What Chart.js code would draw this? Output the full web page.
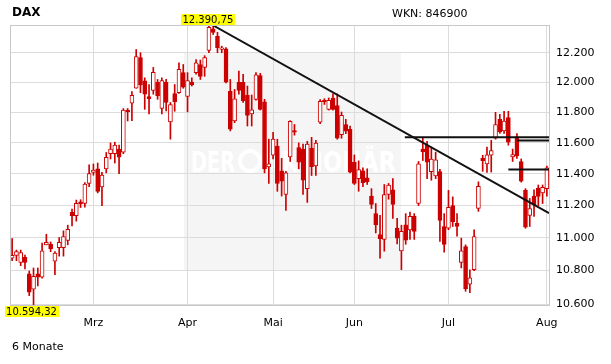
<!DOCTYPE html>
<html><head><meta charset="utf-8">
<style>html,body{margin:0;padding:0;background:#fff;}#wrap{width:611px;height:364px;}</style>
<script src="https://cdn.jsdelivr.net/npm/chart.js@4.4.1/dist/chart.umd.min.js"></script>
</head><body><div id="wrap"><canvas id="c" width="611" height="364"></canvas></div>
<script>
// DAX daily candles, 3 Feb - 3 Aug (trading days)
const opens = [10875,10893,10850,10880,10780,10688,10780,10760,10957,10962,10857,10940,10940,10984,11158,11137,11224,11214,11340,
11410,11433,11318,11433,11530,11530,11560,11540,11815,11860,11960,12167,12010,11905,11945,12000,11825,12000,11737,11925,11930,12065,
11905,12000,12065,12120,12100,12215,12364,12313,12222,12227,11940,11743,12000,12000,11915,11790,11886,12045,11870,11445,
11520,11580,11420,11270,11510,11680,11570,11560,11307,11567,11452,11736,11880,11820,11895,11845,11654,11720,11689,
11475,11370,11420,11375,11260,11150,11020,10990,11270,11300,11060,10920,11080,11048,11133,11213,11560,11585,11415,11388,11415,11070,
11060,11200,11090,10850,10947,10718,10806,11182,11500,11465,11520,11630,11754,11678,11765,11510,11640,11480,11296,11138,11260,11310,11280,
11307];
const highs = [10995,10925,10925,10895,10798,10816,10816,10968,11022,10975,10915,11002,11043,11078,11178,11235,11237,11346,11458,
11464,11470,11410,11538,11600,11604,11585,11825,11825,11938,12222,12200,12030,11985,12100,12019,12030,12020,11865,11985,12132,12120,
12065,12030,12154,12150,12180,12390.75,12385,12340,12245,12236,12019,11952,12075,12054,11975,11915,12065,12060,11886,11624,
11668,11624,11500,11417,11745,11720,11600,11592,11610,11636,11617,11885,11890,11895,11922,11922,11802,11754,11710,
11522,11484,11440,11433,11307,11213,11140,11333,11340,11370,11120,11078,11150,11160,11150,11480,11636,11610,11573,11540,11430,11150,
11296,11255,11150,10998,10957,10805,11050,11350,11520,11573,11617,11800,11787,11807,11807,11560,11660,11496,11307,11245,11300,11330,11330,
11450];
const lows = [10860,10860,10830,10810,10650,10594.32,10708,10755,10957,10915,10776,10888,10888,10957,11074,11103,11188,11190,11320,
11392,11280,11200,11407,11496,11470,11402,11530,11743,11745,11960,11930,11820,11790,11920,11886,11790,11810,11624,11807,11925,11960,
11803,11975,12055,12019,12040,12200,12325,12200,12200,11995,11678,11732,11920,11865,11710,11710,11880,11815,11407,11340,
11496,11290,11260,11170,11480,11650,11433,11270,11220,11390,11390,11725,11852,11815,11815,11624,11630,11660,11407,
11333,11290,11320,11333,11182,11030,10876,10918,11240,11120,10963,10806,10960,10990,10990,11200,11486,11370,11360,11370,10978,10912,
11050,11070,11010,10816,10676,10667,10800,11164,11417,11410,11412,11624,11662,11662,11585,11480,11500,11348,11059,11070,11133,11200,11213,
11260];
const closes = [10893,10915,10910,10850,10670,10765,10760,10920,10973,10932,10906,10973,11008,11053,11137,11214,11210,11336,11402,
11425,11290,11393,11507,11560,11585,11507,11815,11805,11912,12174,11982,11920,11890,12067,11910,12012,11865,11852,11870,12087,11968,
12012,11982,12132,12040,12167,12375,12340,12234,12234,12000,11690,11890,11945,11877,11780,11817,12050,11820,11433,11465,
11624,11340,11355,11407,11740,11670,11475,11360,11592,11446,11598,11872,11870,11880,11820,11630,11780,11676,11411,
11340,11428,11345,11350,11208,11080,10995,11270,11330,11208,10998,11040,10985,11133,11040,11465,11543,11475,11496,11490,11108,10960,
11190,11100,11070,10920,10690,10756,11008,11322,11485,11522,11550,11720,11672,11743,11604,11525,11515,11355,11065,11182,11205,11258,11315,
11440];

const monthLabels = ['Mrz','Apr','Mai','Jun','Jul','Aug'];
const monthStartIndex = [19, 41, 61, 80, 102, 125];
const yTickValues = [10600,10800,11000,11200,11400,11600,11800,12000,12200];

// drawn lines: [startIndex, startValue, endIndex, endValue]
const trendDown = [46.8, 12390.75, 125.5, 11153];
const resistHigh1 = [91.8, 11636, 125.5, 11636];
const resistHigh2 = [118.0, 11615, 125.5, 11615];
const resistLow = [116.0, 11429, 125.5, 11429];

const RED = '#cc0000';
const idx = opens.map((_, i) => i);
const bodyData = idx.map(i => ({x: i, y: [opens[i], closes[i]]}));
const wickData = idx.map(i => ({x: i, y: [lows[i], highs[i]]}));
const bodyFill = idx.map(i => closes[i] >= opens[i] ? '#ffffff' : RED);

function deThousands(n) { return String(n).replace(/\B(?=(\d{3})+(?!\d))/g, '.'); }
function deDecimal(v) { const p = v.toFixed(2).split('.'); return deThousands(p[0]) + ',' + p[1]; }
function lineDs(seg) {
  return { type: 'line', data: [{x: seg[0], y: seg[1]}, {x: seg[2], y: seg[3]}],
    borderColor: '#111', borderWidth: 2, pointRadius: 0, fill: false, order: 0, tension: 0 };
}

Chart.defaults.font.family = '"DejaVu Sans", Verdana, sans-serif';
Chart.defaults.font.size = 11;
Chart.defaults.color = '#000';

const deco = {
  id: 'deco',
  beforeDraw(chart) {
    const ctx = chart.ctx;
    ctx.save();
    ctx.fillStyle = '#fff'; ctx.fillRect(0, 0, chart.width, chart.height);
    ctx.fillStyle = '#f5f5f5'; ctx.fillRect(184, 53, 217, 217);
    ctx.fillStyle = '#ffffff'; ctx.strokeStyle = '#ffffff';
    ctx.font = 'bold 28px "DejaVu Sans"'; ctx.textBaseline = 'alphabetic'; ctx.textAlign = 'left';
    ctx.fillText('DER', 191, 172, 44);
    ctx.lineWidth = 4; ctx.beginPath(); ctx.arc(250, 161, 10, 0, Math.PI * 2); ctx.stroke();
    ctx.fillText('AKTIONÄR', 264, 172, 132);
    ctx.restore();
  },
  afterDraw(chart) {
    const ctx = chart.ctx, a = chart.chartArea;
    const xs = chart.scales.x, ys = chart.scales.y;
    ctx.save();
    ctx.strokeStyle = '#c8c8c8'; ctx.lineWidth = 1;
    ctx.beginPath();
    ctx.moveTo(a.left, Math.round(a.top) + 0.5); ctx.lineTo(a.right, Math.round(a.top) + 0.5);
    ctx.moveTo(Math.round(a.left) + 0.5, a.top); ctx.lineTo(Math.round(a.left) + 0.5, a.bottom);
    ctx.stroke();
    ctx.fillStyle = '#000'; ctx.textBaseline = 'middle'; ctx.textAlign = 'left';
    ctx.font = 'bold 12px "DejaVu Sans"'; ctx.fillText('DAX', 12, 13);
    ctx.font = '11px "DejaVu Sans"';
    ctx.fillText('WKN: 846900', 392, 14);
    ctx.fillText('6 Monate', 12, 347);
    let iMax = 0, iMin = 0;
    highs.forEach((v, i) => { if (v > highs[iMax]) iMax = i; });
    lows.forEach((v, i) => { if (v < lows[iMin]) iMin = i; });
    ctx.font = '10px "DejaVu Sans"'; ctx.textAlign = 'center';
    const drawTag = (txt, cx, top) => {
      const w = ctx.measureText(txt).width + 3;
      ctx.fillStyle = '#ffff00'; ctx.fillRect(Math.round(cx - w / 2), top, Math.round(w), 11);
      ctx.fillStyle = '#000'; ctx.fillText(txt, cx, top + 6);
    };
    drawTag(deDecimal(highs[iMax]), xs.getPixelForValue(iMax) - 1, Math.round(ys.getPixelForValue(highs[iMax])) - 11);
    drawTag(deDecimal(lows[iMin]), xs.getPixelForValue(iMin) - 2, Math.round(ys.getPixelForValue(lows[iMin])) + 1);
    ctx.restore();
  }
};

new Chart(document.getElementById('c'), {
  type: 'bar',
  data: {
    datasets: [
      lineDs(trendDown), lineDs(resistHigh1), lineDs(resistHigh2), lineDs(resistLow),
      { label: 'body', data: bodyData, backgroundColor: bodyFill, borderColor: RED, borderWidth: 1,
        borderSkipped: false, barThickness: 4, grouped: false, minBarLength: 1, order: 1 },
      { label: 'wick', data: wickData, backgroundColor: RED, borderWidth: 0,
        barThickness: 1, grouped: false, order: 2 }
    ]
  },
  options: {
    responsive: false, animation: false, devicePixelRatio: 1,
    layout: { padding: { left: 10, top: 25, right: 0, bottom: 0 } },
    plugins: { legend: { display: false }, tooltip: { enabled: false } },
    scales: {
      x: {
        type: 'linear', min: -0.5, max: 125.5, offset: false,
        grid: { color: '#dcdcdc', offset: false, drawTicks: false },
        border: { display: true, color: '#c8c8c8' },
        afterBuildTicks: s => { s.ticks = monthStartIndex.map(v => ({ value: v })); },
        afterFit: s => { s.height = 59; },
        ticks: { autoSkip: false, maxRotation: 0, padding: 12, color: '#000',
          callback: (v, i) => monthLabels[i] }
      },
      y: {
        type: 'logarithmic', position: 'right', min: 10594.32, max: 12390.75,
        grid: { color: '#dcdcdc', drawTicks: false },
        border: { display: true, color: '#c8c8c8' },
        afterBuildTicks: s => { s.ticks = yTickValues.map(v => ({ value: v })); },
        afterFit: s => { s.width = 62; },
        ticks: { padding: 7, color: '#000', callback: v => deThousands(v) }
      }
    }
  },
  plugins: [deco]
});
</script></body></html>
